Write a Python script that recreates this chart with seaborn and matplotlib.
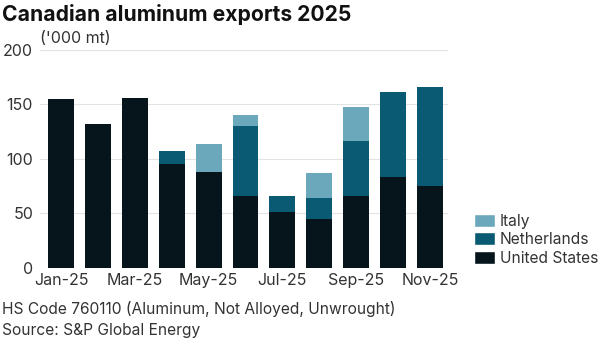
import matplotlib
matplotlib.use("Agg")
import matplotlib.pyplot as plt
import seaborn as sns
import pandas as pd
import numpy as np
from matplotlib.patches import Patch

months = ["Jan-25", "Feb-25", "Mar-25", "Apr-25", "May-25", "Jun-25",
          "Jul-25", "Aug-25", "Sep-25", "Oct-25", "Nov-25"]
united_states = [155, 131.5, 156, 95, 88, 66, 51, 44.5, 66, 83.5, 75]
netherlands = [0, 0, 0, 12, 0, 63.5, 15, 19, 50.5, 77.5, 91]
italy = [0, 0, 0, 0, 25.5, 10.5, 0, 23, 30.5, 0, 0]
yticks = [0, 50, 100, 150, 200]

c_us = "#06151c"
c_nl = "#0b5a73"
c_it = "#6ba8bc"

sns.set_theme(style="white")
plt.rcParams["font.family"] = ["Inter", "DejaVu Sans"]

df = pd.DataFrame({"month": months, "us": united_states,
                   "nl": netherlands, "it": italy})
df["us_nl"] = df["us"] + df["nl"]
df["total"] = df["us_nl"] + df["it"]

fig = plt.figure(figsize=(6.01, 3.44), dpi=100)
ax = fig.add_axes([0.0666, 0.2218, 0.746 - 0.0666, 0.856 - 0.2218])

for col, color in [("total", c_it), ("us_nl", c_nl), ("us", c_us)]:
    sns.barplot(data=df, x="month", y=col, color=color, width=0.7,
                saturation=1, ax=ax, edgecolor="none", linewidth=0)

ax.set_xlim(-0.57, 10.5)
ax.set_ylim(0, 200)
ax.set_yticks(yticks)
ax.set_yticklabels([str(v) for v in yticks])
ax.set_xticks(range(0, 11, 2))
ax.set_xticklabels(months[::2])
ax.set_xlabel("")
ax.set_ylabel("")
ax.yaxis.grid(True, color="#e3e3e3", linewidth=0.8)
ax.set_axisbelow(True)
for s in ax.spines.values():
    s.set_visible(False)
ax.tick_params(axis="both", length=0, labelsize=11.5, colors="#333333")
ax.tick_params(axis="y", pad=5)
ax.tick_params(axis="x", pad=4)

fig.text(0.004, 0.988, "Canadian aluminum exports 2025", fontsize=15.2,
         fontweight="bold", ha="left", va="top", color="#111111")
fig.text(0.066, 0.866, "('000 mt)", fontsize=11.5, ha="left", va="bottom",
         color="#333333")
fig.text(0.004, 0.103, "HS Code 760110 (Aluminum, Not Alloyed, Unwrought)",
         fontsize=11.2, ha="left", va="center", color="#333333")
fig.text(0.004, 0.04, "Source: S&P Global Energy", fontsize=11.2,
         ha="left", va="center", color="#333333")

handles = [Patch(facecolor=c_it, label="Italy"),
           Patch(facecolor=c_nl, label="Netherlands"),
           Patch(facecolor=c_us, label="United States")]
fig.legend(handles=handles, loc="lower left", bbox_to_anchor=(0.775, 0.205),
           frameon=False, fontsize=11.2, handlelength=1.4, handleheight=0.9,
           handletextpad=0.3, labelspacing=0.22, borderpad=0,
           labelcolor="#333333")

fig.savefig("out.png", dpi=100)
